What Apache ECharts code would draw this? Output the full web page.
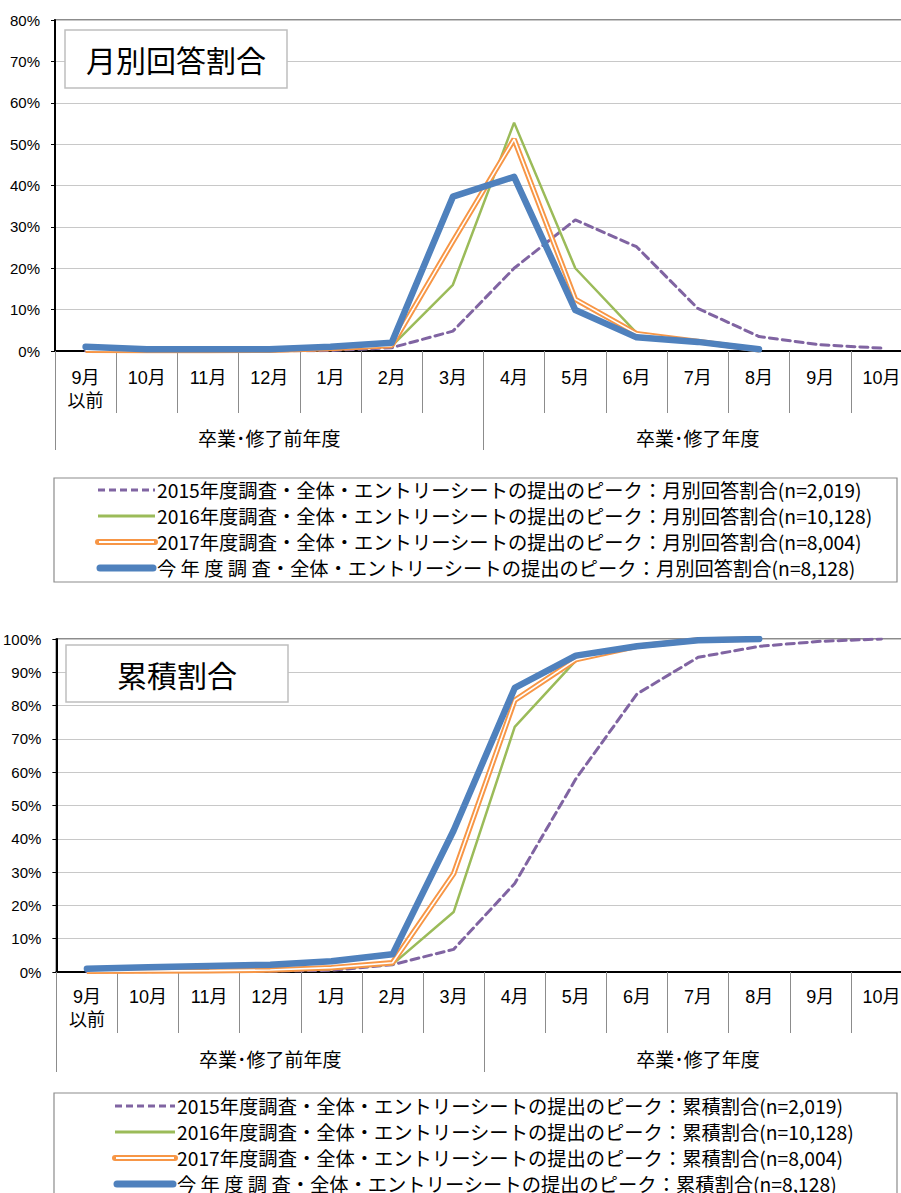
<!DOCTYPE html>
<html>
<head>
<meta charset="utf-8">
<script src="https://cdn.jsdelivr.net/npm/echarts@6/dist/echarts.min.js"></script>
<style>
html,body{margin:0;padding:0;background:#fff;overflow:hidden;}
#c{width:920px;height:1193px;}
</style>
</head>
<body>
<div id="c"></div>
<script>
// ---- data ----
const months = ['9月\n以前','10月','11月','12月','1月','2月','3月','4月','5月','6月','7月','8月','9月','10月'];
const groups = ['卒業･修了前年度','卒業･修了年度'];
const yTicksTop = [0,10,20,30,40,50,60,70,80];
const yTicksBottom = [0,10,20,30,40,50,60,70,80,90,100];

// monthly share (%)
const m2015 = [0, 0, 0, 0, 0.1, 0.8, 4.8, 20.0, 31.7, 25.2, 10.3, 3.5, 1.5, 0.7];
const m2016 = [0.1, 0.1, 0.1, 0.2, 0.4, 1.2, 16.0, 55.2, 20.0, 4.4, 2.3, 0.3, null, null];
const m2017 = [0.2, 0.1, 0.1, 0.2, 0.6, 1.3, 26.5, 51.2, 12.5, 4.2, 2.3, 0.3, null, null];
const mThis = [1.0, 0.4, 0.4, 0.4, 1.0, 2.0, 37.3, 42.1, 9.9, 3.3, 2.2, 0.4, null, null];

// cumulative share (%)
const c2015 = [0, 0.1, 0.2, 0.3, 0.5, 2.2, 6.8, 26.6, 58.0, 83.5, 94.5, 97.8, 99.3, 100];
const c2016 = [0.1, 0.2, 0.3, 0.5, 0.9, 2.3, 18.0, 73.6, 93.5, 98.1, 99.6, 100, null, null];
const c2017 = [0.2, 0.3, 0.4, 0.6, 1.3, 2.8, 29.5, 81.6, 93.8, 97.8, 99.7, 100, null, null];
const cThis = [1.0, 1.4, 1.8, 2.2, 3.2, 5.3, 42.5, 85.3, 95.0, 97.8, 99.6, 100, null, null];

const namesTop = [
  '2015年度調査・全体・エントリーシートの提出のピーク：月別回答割合(n=2,019)',
  '2016年度調査・全体・エントリーシートの提出のピーク：月別回答割合(n=10,128)',
  '2017年度調査・全体・エントリーシートの提出のピーク：月別回答割合(n=8,004)',
  '今 年 度 調 査・全体・エントリーシートの提出のピーク：月別回答割合(n=8,128)'
];
const namesBottom = [
  '2015年度調査・全体・エントリーシートの提出のピーク：累積割合(n=2,019)',
  '2016年度調査・全体・エントリーシートの提出のピーク：累積割合(n=10,128)',
  '2017年度調査・全体・エントリーシートの提出のピーク：累積割合(n=8,004)',
  '今 年 度 調 査・全体・エントリーシートの提出のピーク：累積割合(n=8,128)'
];
const titleTop = '月別回答割合';
const titleBottom = '累積割合';

// ---- styles ----
const PURPLE = '#8064A2', GREEN = '#9BBB59', ORANGE = '#F79646', BLUE = '#4F81BD';
const FONT = "'Liberation Sans', 'Noto Sans CJK JP', sans-serif";
const CJK = "'Noto Sans CJK JP', sans-serif";

function seriesFor(idx, d15, d16, d17, dThis) {
  const base = {type:'line', xAxisIndex: idx*2, yAxisIndex: idx, symbol:'none', silent:true, connectNulls:false};
  return [
    Object.assign({}, base, {name:'p'+idx, data:d15, z:2, lineStyle:{color:PURPLE, width:3, type:[8,5], cap:'round'}}),
    Object.assign({}, base, {name:'g'+idx, data:d16, z:3, lineStyle:{color:GREEN, width:2.5}}),
    Object.assign({}, base, {name:'o'+idx, data:d17, z:4, lineStyle:{color:ORANGE, width:5.5}}),
    Object.assign({}, base, {name:'ow'+idx, data:d17, z:5, lineStyle:{color:'#fff', width:1.6}}),
    Object.assign({}, base, {name:'b'+idx, data:dThis, z:6, lineStyle:{color:BLUE, width:6.5, cap:'round', join:'round'}})
  ];
}

function xAxesFor(idx, monthTick, groupTick, monthMargin, groupMargin) {
  return [
    {type:'category', gridIndex:idx, data:months, boundaryGap:true, position:'bottom',
     axisLine:{show:true, lineStyle:{color:'#000', width:2}},
     axisTick:{show:true, interval:0, length:monthTick, lineStyle:{color:'#8c8c8c', width:1}},
     axisLabel:{interval:0, margin:monthMargin, fontSize:18, lineHeight:23, color:'#000', fontFamily:FONT}},
    {type:'category', gridIndex:idx, data:groups, boundaryGap:true, position:'bottom',
     axisLine:{show:false},
     axisTick:{show:true, interval:0, length:groupTick, lineStyle:{color:'#8c8c8c', width:1}},
     axisLabel:{interval:0, margin:groupMargin, fontSize:19, color:'#000', fontFamily:CJK}}
  ];
}

function yAxisFor(idx, ticks) {
  return {type:'value', gridIndex:idx, min:ticks[0], max:ticks[ticks.length-1], interval:ticks[1]-ticks[0],
    axisLine:{show:true, lineStyle:{color:'#000', width:2}},
    axisTick:{show:true, length:4, lineStyle:{color:'#000'}},
    splitLine:{show:true, lineStyle:{color:'#c8c8c8', width:1.2}},
    axisLabel:{formatter:'{value}%', fontSize:15, color:'#000', margin:15, fontFamily:FONT}};
}

function titleBox(x, y, w, h, text) {
  return [
    {type:'rect', z:50, shape:{x:x, y:y, width:w, height:h}, style:{fill:'#fff', stroke:'#bfbfbf', lineWidth:1.5}},
    {type:'text', z:51, x:x+w/2, y:y+h/2, style:{text:text, fontSize:30, fontFamily:CJK, fill:'#000', align:'center', verticalAlign:'middle'}}
  ];
}

function legendBox(box, rowsY, sx1, sx2, tx, names) {
  const g = [{type:'rect', z:50, shape:{x:box[0], y:box[1], width:box[2], height:box[3]}, style:{fill:'#fff', stroke:'#8c8c8c', lineWidth:1.2}}];
  const ys = rowsY;
  g.push({type:'line', z:51, shape:{x1:sx1, y1:ys[0], x2:sx2, y2:ys[0]}, style:{stroke:PURPLE, lineWidth:3, lineDash:[7,4]}});
  g.push({type:'line', z:51, shape:{x1:sx1, y1:ys[1], x2:sx2, y2:ys[1]}, style:{stroke:GREEN, lineWidth:3}});
  g.push({type:'line', z:51, shape:{x1:sx1, y1:ys[2], x2:sx2, y2:ys[2]}, style:{stroke:ORANGE, lineWidth:6, lineCap:'round'}});
  g.push({type:'line', z:52, shape:{x1:sx1+1, y1:ys[2], x2:sx2-1, y2:ys[2]}, style:{stroke:'#fff', lineWidth:2}});
  g.push({type:'line', z:51, shape:{x1:sx1+2, y1:ys[3], x2:sx2-2, y2:ys[3]}, style:{stroke:BLUE, lineWidth:7, lineCap:'round'}});
  names.forEach((n, i) => {
    g.push({type:'text', z:53, x:tx, y:ys[i], style:{text:n, fontSize:19.3, lineHeight:22, fontFamily:CJK, fill:'#000', align:'left', verticalAlign:'middle'}});
  });
  return g;
}

const chart = echarts.init(document.getElementById('c'), null, {renderer:'svg'});
const option = {
  animation:false,
  backgroundColor:'#fff',
  grid:[
    {left:55, top:20, width:857, height:331, show:true, borderColor:'#8c8c8c', borderWidth:2, backgroundColor:'transparent'},
    {left:55, top:639, width:857, height:333, show:true, borderColor:'#8c8c8c', borderWidth:2, backgroundColor:'transparent'}
  ],
  xAxis: [].concat(xAxesFor(0, 62, 99, 15, 77), xAxesFor(1, 61, 100, 13, 77)),
  yAxis: [yAxisFor(0, yTicksTop), yAxisFor(1, yTicksBottom)],
  series: [].concat(seriesFor(0, m2015, m2016, m2017, mThis), seriesFor(1, c2015, c2016, c2017, cThis)),
  graphic: [].concat(
    titleBox(65, 30, 222, 58, titleTop),
    titleBox(66, 645, 222, 57, titleBottom),
    legendBox([54, 478, 843, 104], [490, 516, 542, 568], 98, 155, 157, namesTop),
    legendBox([54, 1093, 843, 130], [1106, 1132, 1158, 1184], 115, 175, 177, namesBottom)
  )
};
chart.setOption(option);
</script>
</body>
</html>
